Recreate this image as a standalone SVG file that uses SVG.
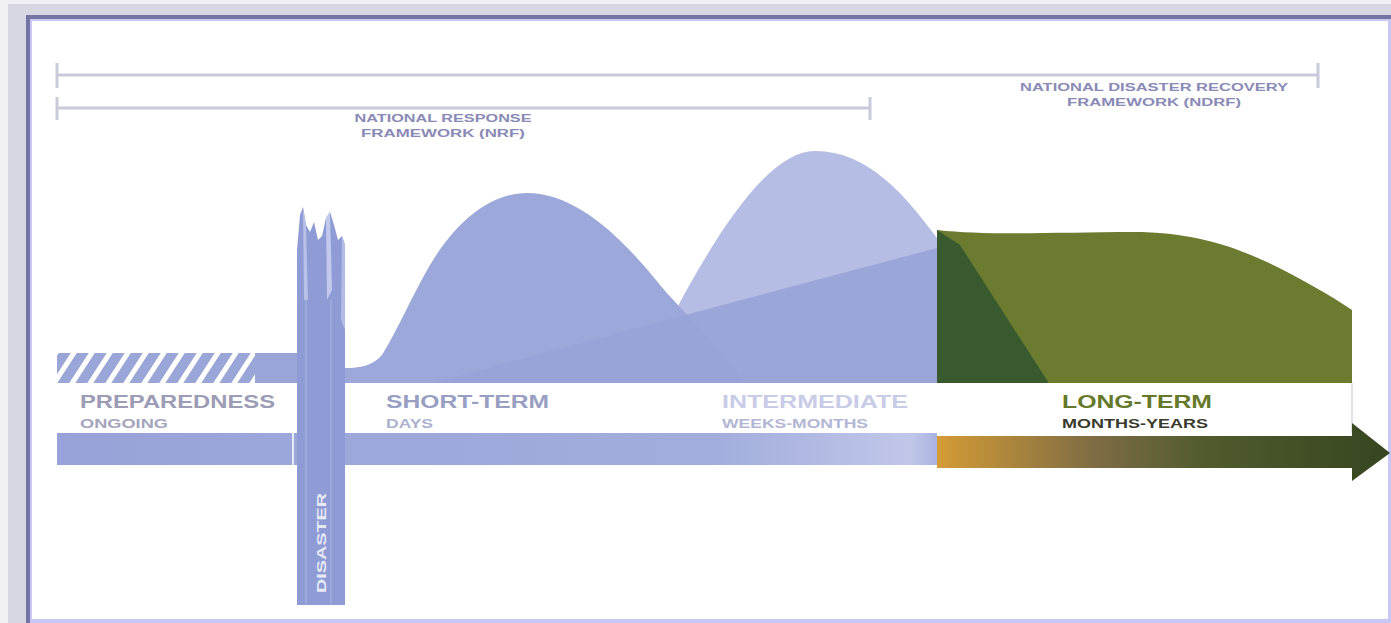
<svg xmlns="http://www.w3.org/2000/svg" width="1391" height="623" viewBox="0 0 1391 623">
<style>
.lbl{font-family:"Liberation Sans",Arial,sans-serif;font-weight:bold}
.fw{font-size:11px;fill:#8a8ab6}
.big{font-size:19px}
.sub{font-size:12px}
.rng{stroke:#cacada;stroke-width:3;fill:none}
</style>
<defs>
<pattern id="hatch" patternUnits="userSpaceOnUse" width="18" height="30" patternTransform="skewX(-33)">
<rect x="0" y="0" width="18" height="30" fill="#ffffff"/>
<rect x="0" y="0" width="12" height="30" fill="#9ba6d8"/>
</pattern>
<linearGradient id="barG" x1="57" y1="0" x2="937" y2="0" gradientUnits="userSpaceOnUse">
<stop offset="0" stop-color="#97a3d8"/>
<stop offset="0.75" stop-color="#a3addd"/>
<stop offset="0.97" stop-color="#c0c7e9"/>
<stop offset="1" stop-color="#aab3e0"/>
</linearGradient>
<linearGradient id="arrG" x1="937" y1="0" x2="1390" y2="0" gradientUnits="userSpaceOnUse">
<stop offset="0" stop-color="#d49c36"/>
<stop offset="0.35" stop-color="#7e6c44"/>
<stop offset="0.6" stop-color="#4f5a2e"/>
<stop offset="1" stop-color="#37461f"/>
</linearGradient>
</defs>

<g id="frame">
<rect x="0" y="0" width="1391" height="623" fill="#efeff4"/>
<rect x="8" y="4" width="1383" height="619" fill="#d7d7e3"/>
<rect x="26" y="15" width="1365" height="608" fill="#7474a4"/>
<rect x="30" y="19" width="1361" height="604" fill="#c8c8f4"/>
<rect x="32" y="21" width="1356" height="598" fill="#ffffff"/>
</g>

<g id="ranges">
<path class="rng" d="M57 75 H1318 M57 63 V88 M1318 63 V88"/>
<path class="rng" d="M57 108 H870 M57 97 V120 M870 97 V120"/>
</g>

<g id="ndrf-label">
<text class="lbl fw" x="1154" y="91" text-anchor="middle" textLength="268" lengthAdjust="spacingAndGlyphs">NATIONAL DISASTER RECOVERY</text>
<text class="lbl fw" x="1154" y="106" text-anchor="middle" textLength="174" lengthAdjust="spacingAndGlyphs">FRAMEWORK (NDRF)</text>
</g>
<g id="nrf-label">
<text class="lbl fw" x="443" y="122" text-anchor="middle" textLength="177" lengthAdjust="spacingAndGlyphs">NATIONAL RESPONSE</text>
<text class="lbl fw" x="443" y="137" text-anchor="middle" textLength="164" lengthAdjust="spacingAndGlyphs">FRAMEWORK (NRF)</text>
</g>

<g id="response-areas">
<path d="M640 383 L665 330 C700 265 760 151 815 151 C868 151 905 195 937 238 L937 383 Z" fill="#b5bde4"/>
<path d="M345 383 L345 368 C360 368 372 366 382 355 C395 335 410 300 430 265 C460 215 495 193 527 193 C575 193 620 235 660 285 C690 320 715 340 745 383 Z" fill="#9da8da"/>
<path d="M430 383 L937 248 L937 383 Z" fill="#98a3d7" opacity="0.92"/>
</g>

<g id="preparedness-area">
<rect x="57" y="353" width="200" height="30" fill="url(#hatch)"/>
<rect x="255" y="353" width="45" height="30" fill="#9aa5d8"/>
</g>

<g id="recovery-area">
<path d="M937 385 L937 230 C990 236 1060 232 1133 232 C1190 232 1230 245 1267 262 C1300 278 1330 295 1352 310 L1352 385 Z" fill="#6b7b30"/>
<path d="M937 230 L960 245 L1050 385 L937 385 Z" fill="#385a2e"/>
</g>

<g id="label-band">
<rect x="57" y="383" width="1295" height="50" fill="#ffffff"/>
<line x1="1352" y1="383" x2="1352" y2="433" stroke="#d8d8e8" stroke-width="1.5"/>
</g>

<g id="timeline-bar">
<rect x="57" y="433" width="880" height="32" fill="url(#barG)"/>
<rect x="292" y="433" width="2" height="32" fill="#e8ebf7"/>
</g>

<g id="recovery-arrow">
<path d="M937 436 H1352 V423 L1390 453 L1352 481 V468 H937 Z" fill="url(#arrG)"/>
</g>

<g id="disaster">
<path d="M297 605 L297 250 L300 215 L303 207 L306 225 L310 232 L314 222 L318 240 L322 236 L326 218 L330 212 L334 225 L338 240 L342 236 L345 245 L345 605 Z" fill="#8e9bd4"/>
<path d="M303 207 L306 225 L308 300 L304 300 Z" fill="#b9c1e8"/>
<path d="M326 218 L330 212 L332 290 L327 300 Z" fill="#c2c9ec"/>
<path d="M342 236 L345 245 L345 330 L341 320 Z" fill="#b3bce6"/>
<rect x="305" y="300" width="2" height="305" fill="#a4afe0" opacity="0.7"/>
<rect x="330" y="300" width="2" height="305" fill="#a4afe0" opacity="0.7"/>
<text class="lbl" x="0" y="0" transform="translate(326 543) rotate(-90)" text-anchor="middle" font-size="12" fill="#e6e9f7" textLength="100" lengthAdjust="spacingAndGlyphs">DISASTER</text>
</g>

<g id="labels">
<text class="lbl big" x="80" y="408" fill="#9c9cb6" textLength="195" lengthAdjust="spacingAndGlyphs">PREPAREDNESS</text>
<text class="lbl sub" x="80" y="428" fill="#a4a4bc" textLength="88" lengthAdjust="spacingAndGlyphs">ONGOING</text>
<text class="lbl big" x="386" y="408" fill="#999fc2" textLength="163" lengthAdjust="spacingAndGlyphs">SHORT-TERM</text>
<text class="lbl sub" x="386" y="428" fill="#adb1cf" textLength="47" lengthAdjust="spacingAndGlyphs">DAYS</text>
<text class="lbl big" x="722" y="408" fill="#c8cce7" textLength="186" lengthAdjust="spacingAndGlyphs">INTERMEDIATE</text>
<text class="lbl sub" x="722" y="428" fill="#b2b6d4" textLength="146" lengthAdjust="spacingAndGlyphs">WEEKS-MONTHS</text>
<text class="lbl big" x="1062" y="408" fill="#66782a" textLength="150" lengthAdjust="spacingAndGlyphs">LONG-TERM</text>
<text class="lbl sub" x="1062" y="428" fill="#3a3a2c" textLength="146" lengthAdjust="spacingAndGlyphs">MONTHS-YEARS</text>
</g>
</svg>
